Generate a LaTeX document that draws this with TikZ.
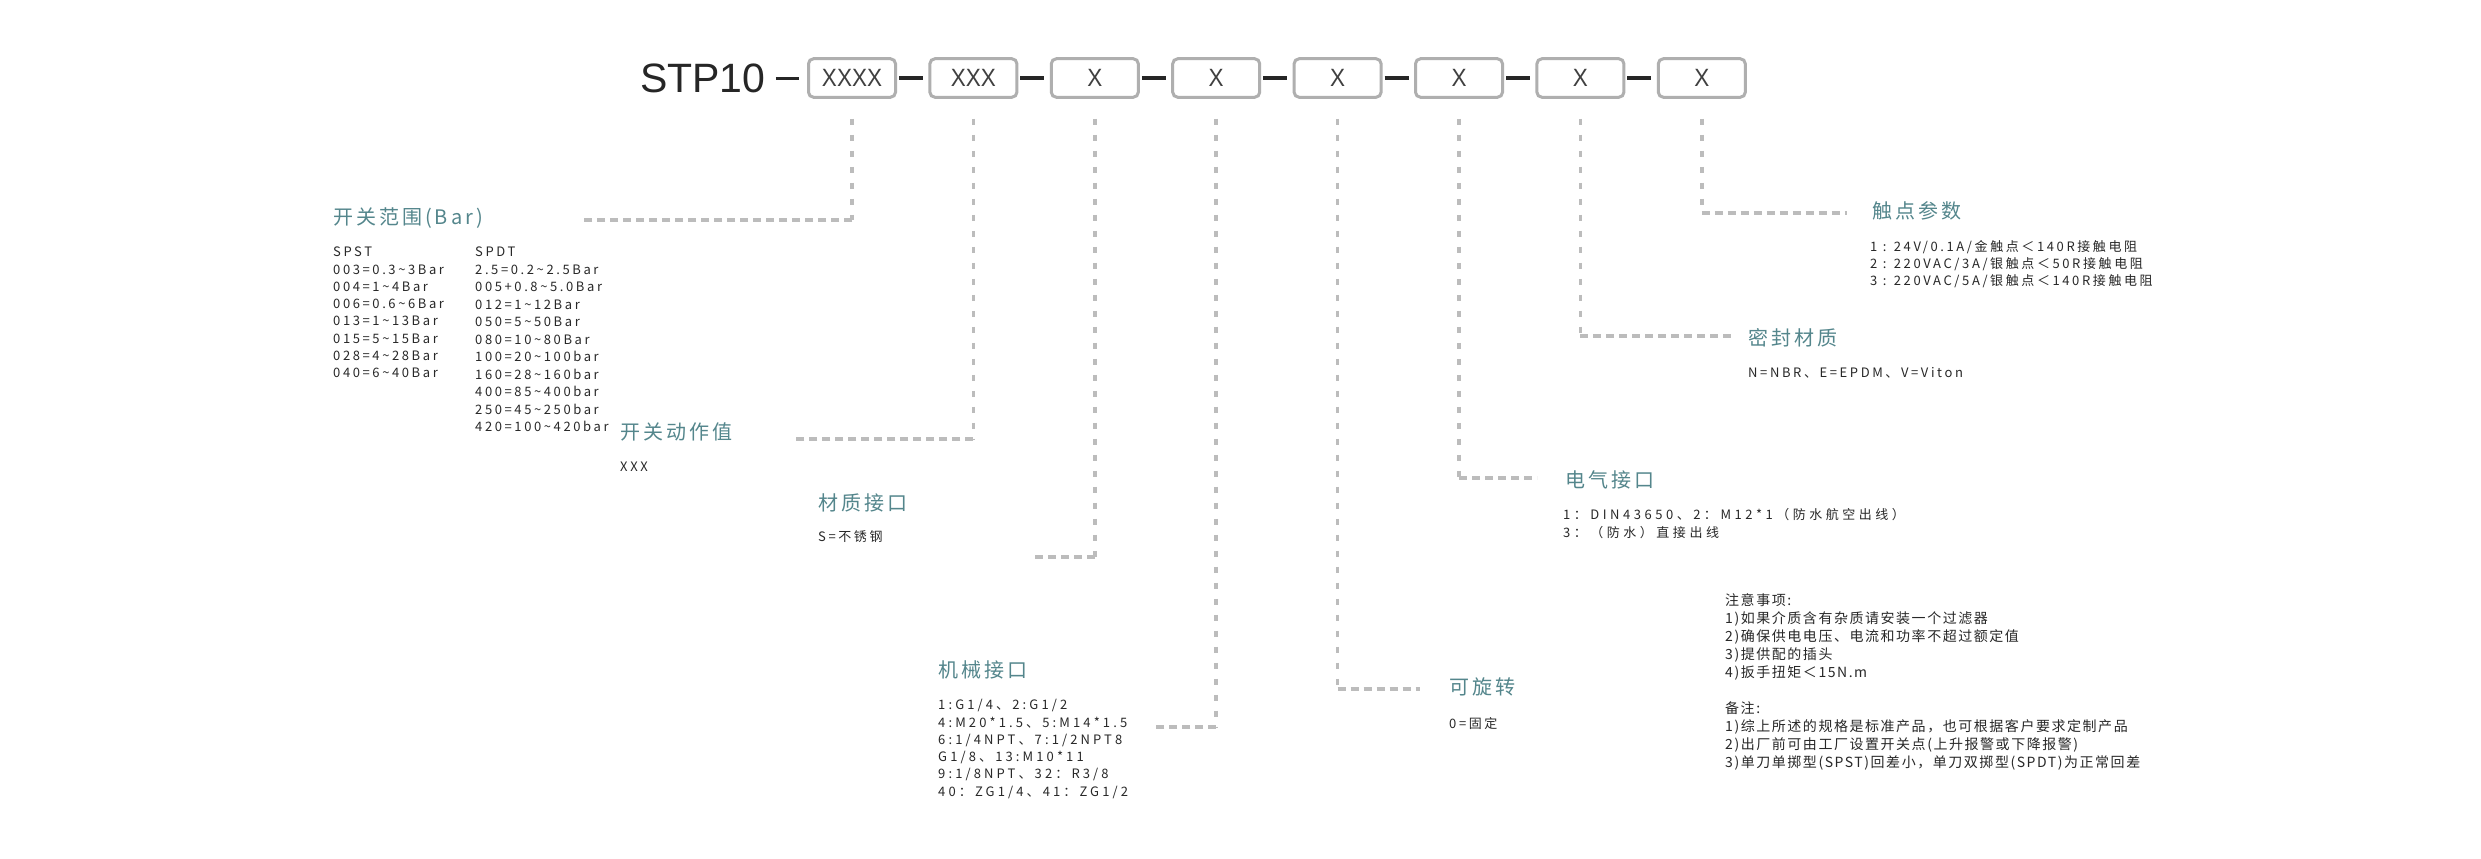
\documentclass[tikz,border=0pt]{standalone}
\usepackage{fontspec}
\setmainfont{Noto Sans CJK SC}
\newfontfamily\stpfont{Liberation Sans}
\newfontfamily\boxfont[FakeStretch=0.9]{Liberation Sans}
\newfontfamily\titlefont[LetterSpace=15]{Noto Sans CJK SC}
\newfontfamily\listfont[LetterSpace=20]{Noto Sans CJK SC}
\newfontfamily\mechfont[LetterSpace=24]{Noto Sans CJK SC}
\newfontfamily\elecfont[LetterSpace=27]{Noto Sans CJK SC}
\newfontfamily\notefont[LetterSpace=11]{Noto Sans CJK SC}
\usepackage{tikz}
\usetikzlibrary{positioning}
\definecolor{titleteal}{RGB}{84,134,140}
\definecolor{darktext}{RGB}{40,40,40}
\definecolor{boxgray}{RGB}{175,175,175}
\definecolor{leadgray}{RGB}{188,188,188}
\tikzset{
    % Code box
    codebox/.style={draw=boxgray,line width=3pt,rounded corners=5pt,minimum width=87pt,minimum height=38.5pt,inner sep=0pt,text=black!75,font=\boxfont\fontsize{25}{25}\selectfont},
    % Short black joiner
    joiner/.style={line width=3.5pt,black!85,shorten <=2pt,shorten >=5.4pt},
    % Lead lines
    vlead/.style={line width=3.5pt,leadgray,dash pattern=on 6pt off 10pt},
    hlead/.style={line width=3.5pt,leadgray,dash pattern=on 8pt off 5pt},
    % Texts
    heading/.style={anchor=base west,inner sep=0pt,text=titleteal,font=\titlefont\fontsize{20}{24}\selectfont},
    entry/.style={anchor=base west,inner sep=0pt,text=darktext,font=\listfont\fontsize{13}{17}\selectfont},
    note/.style={anchor=base west,inner sep=0pt,text=darktext,font=\notefont\fontsize{14}{18}\selectfont}
}

\begin{document}
\begin{tikzpicture}[x=1pt,y=-1pt]
    \fill[white] (0,0) rectangle (2481,859);
    \useasboundingbox (0,0) rectangle (2481,859);

    % Model code
    \node[anchor=base west,inner sep=0pt,text=black!85,font=\stpfont\fontsize{41}{41}\selectfont] (stp) at (640,92.5) {STP10};

    % Code boxes
    \node[codebox] (b1) at (852,78) {XXXX};
    \node[codebox,right=31.4pt of b1] (b2) {XXX};
    \node[codebox,right=31.4pt of b2] (b3) {X};
    \node[codebox,right=31.4pt of b3] (b4) {X};
    \node[codebox,right=31.4pt of b4] (b5) {X};
    \node[codebox,right=31.4pt of b5] (b6) {X};
    \node[codebox,right=31.4pt of b6] (b7) {X};
    \node[codebox,right=31.4pt of b7] (b8) {X};

    % Joiners
    \draw[joiner,shorten <=10pt,shorten >=8pt] (stp.east) -- (stp.east -| b1.west);
    \foreach \a/\b in {b1/b2,b2/b3,b3/b4,b4/b5,b5/b6,b6/b7,b7/b8}
        \draw[joiner] (\a.east) -- (\b.west);

    % Lead lines
    \foreach \i/\ex/\ey in {1/580/220,2/793/439,3/1035/557,4/1153/727,5/1420/689,6/1537/478,7/1733/336,8/1847/213} {
        \coordinate (e\i) at (\ex,\ey);
        \draw[vlead] ([yshift=-20pt]b\i.south) -- (b\i |- e\i);
        \draw[hlead] (b\i |- e\i) -- (e\i);
    }

    % Switching range
    \node[heading] (range) at (333,224.6) {开关范围(Bar)};
    \foreach \s [count=\i from 0] in {SPST,003=0.3\textasciitilde3Bar,004=1\textasciitilde4Bar,006=0.6\textasciitilde6Bar,013=1\textasciitilde13Bar,015=5\textasciitilde15Bar,028=4\textasciitilde28Bar,040=6\textasciitilde40Bar}
        \node[entry] (spst\i) at (333,{256.7+17.3*\i}) {\s};
    \foreach \s [count=\i from 0] in {SPDT,2.5=0.2\textasciitilde2.5Bar,005+0.8\textasciitilde5.0Bar,012=1\textasciitilde12Bar,050=5\textasciitilde50Bar,080=10\textasciitilde80Bar,100=20\textasciitilde100bar,160=28\textasciitilde160bar,400=85\textasciitilde400bar,250=45\textasciitilde250bar,420=100\textasciitilde420bar}
        \node[entry] (spdt\i) at (475,{256.7+17.5*\i}) {\s};

    % Switching value
    \node[heading] (setval) at (620,439.6) {开关动作值};
    \node[entry] (setvalx) at (620,471.7) {XXX};

    % Wetted material
    \node[heading] (matl) at (818,510.6) {材质接口};
    \node[entry] (matlx) at (818,541.7) {S=不锈钢};

    % Process connection
    \node[heading] (mech) at (938,677.6) {机械接口};
    \foreach \s [count=\i from 0] in {1:G1/4、2:G1/2,4:M20*1.5、5:M14*1.5,6:1/4NPT、7:1/2NPT8,G1/8、13:M10*11,9:1/8NPT、32：R3/8,40：ZG1/4、41：ZG1/2}
        \node[entry,font=\mechfont\fontsize{13}{17}\selectfont] (mech\i) at (938,{709.7+17.3*\i}) {\s};

    % Rotatable
    \node[heading] (rot) at (1449,694.6) {可旋转};
    \node[entry] (rotx) at (1449,728.7) {0=固定};

    % Electrical connection
    \node[heading] (elec) at (1565,487.6) {电气接口};
    \node[entry,font=\elecfont\fontsize{13}{17}\selectfont] (elec0) at (1563,519) {1：DIN43650、2：M12*1（防水航空出线）};
    \node[entry,font=\elecfont\fontsize{13}{17}\selectfont] (elec1) at (1563,537) {3：（防水）直接出线};

    % Seal material
    \node[heading] (seal) at (1748,345.6) {密封材质};
    \node[entry] (sealx) at (1748,377.7) {N=NBR、E=EPDM、V=Viton};

    % Contact rating
    \node[heading] (cont) at (1872,218.6) {触点参数};
    \foreach \s [count=\i from 0] in {1 : 24V/0.1A/金触点＜140R接触电阻,2 : 220VAC/3A/银触点＜50R接触电阻,3 : 220VAC/5A/银触点＜140R接触电阻}
        \node[entry] (cont\i) at (1870,{251.7+17*\i}) {\s};

    % Notes
    \foreach \s [count=\i from 0] in {注意事项:,1)如果介质含有杂质请安装一个过滤器,2)确保供电电压、电流和功率不超过额定值,3)提供配的插头,4)扳手扭矩＜15N.m}
        \node[note] (att\i) at (1725,{605+18*\i}) {\s};
    \foreach \s [count=\i from 0] in {备注:,1)综上所述的规格是标准产品，也可根据客户要求定制产品,2)出厂前可由工厂设置开关点(上升报警或下降报警),3)单刀单掷型(SPST)回差小，单刀双掷型(SPDT)为正常回差}
        \node[note] (rem\i) at (1725,{713+18*\i}) {\s};
\end{tikzpicture}
\end{document}
